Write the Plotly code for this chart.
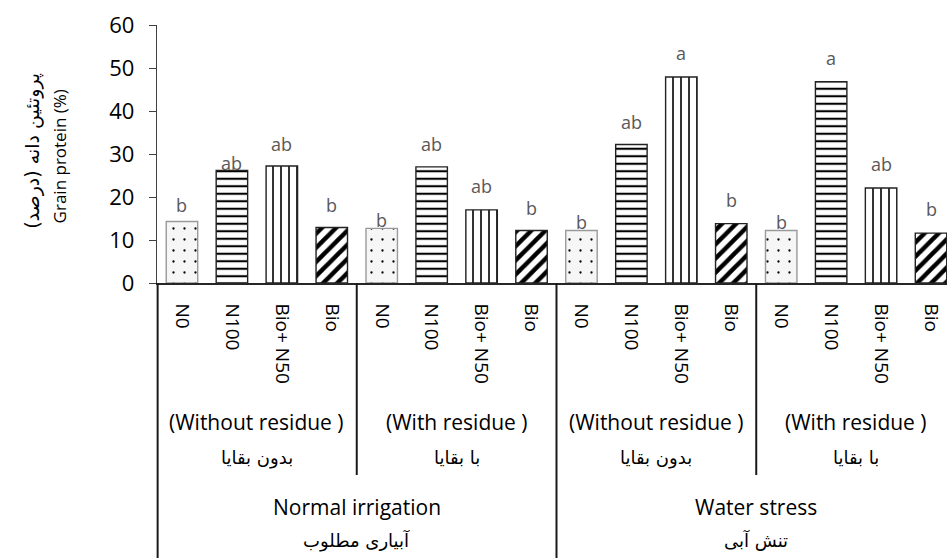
import plotly.graph_objects as go

# ---- data ----
treatments = ["N0", "N100", "Bio+ N50", "Bio"]
residue_en = ["(Without residue )", "(With residue )"]
residue_fa = ["بدون بقایا", "با بقایا"]
irrigation_en = ["Normal irrigation", "Water stress"]
irrigation_fa = ["آبیاری مطلوب", "تنش آبی"]

# order of groups: NI-without, NI-with, WS-without, WS-with
protein_N0 = [14.3, 12.7, 12.2, 12.2]
protein_N100 = [26.2, 27.0, 32.2, 46.8]
protein_BioN50 = [27.2, 17.0, 47.9, 22.1]
protein_Bio = [12.9, 12.2, 13.8, 11.6]

letters_N0 = ["b", "b", "b", "b"]
letters_N100 = ["ab", "ab", "ab", "a"]
letters_BioN50 = ["ab", "ab", "a", "ab"]
letters_Bio = ["b", "b", "b", "b"]

y_title_en = "Grain protein (%)"
y_title_fa = "پروتئین دانه (درصد)\u200f"

# ---- styling (not data) ----
series = [
    (protein_N0, letters_N0, dict(shape=".", size=11, solidity=0.035, fgcolor="#000000", bgcolor="#f6f6f6"), "#9a9a9a", [17, 8, 9, 9]),
    (protein_N100, letters_N100, dict(shape="-", size=7.5, solidity=0.28, fgcolor="#000000", bgcolor="#ffffff"), "#222222", [7, 23, 23, 24]),
    (protein_BioN50, letters_BioN50, dict(shape="|", size=8, solidity=0.2, fgcolor="#000000", bgcolor="#ffffff"), "#222222", [22, 24, 24, 24]),
    (protein_Bio, letters_Bio, dict(shape="/", size=10, solidity=0.45, fgcolor="#000000", bgcolor="#ffffff"), "#222222", [23, 23, 24, 24]),
]

LAT = "Open Sans"
FA = "DejaVu Sans"
n_groups = 4
n_t = len(treatments)

fig = go.Figure()
annotations = []
for j, (vals, lets, pat, lc, offs) in enumerate(series):
    xs = [g * n_t + j for g in range(n_groups)]
    fig.add_trace(go.Bar(
        x=xs, y=vals, width=0.63, name=treatments[j],
        marker=dict(color="#ffffff", line=dict(color=lc, width=1.4),
                    pattern=dict(fillmode="replace", **pat)),
        showlegend=False, hoverinfo="x+y",
    ))
    for x, v, l, o in zip(xs, vals, lets, offs):
        annotations.append(dict(x=x, y=v, xref="x", yref="y", text=l, showarrow=False,
                                yanchor="middle", yshift=o,
                                font=dict(family=LAT, size=18, color="#595959")))

# plot area geometry (pixels) used for paper-coordinate conversion
H_PLOT = 258.0
def py(pix):
    return (283.0 - pix) / H_PLOT

# residue level labels
for gi in range(n_groups):
    cx = gi * n_t + (n_t - 1) / 2
    annotations.append(dict(x=cx, y=py(421.5), xref="x", yref="paper", text=residue_en[gi % 2],
                            showarrow=False, yanchor="middle",
                            font=dict(family=LAT, size=21, color="#000000")))
    annotations.append(dict(x=cx, y=py(458), xref="x", yref="paper", text=residue_fa[gi % 2],
                            showarrow=False, yanchor="middle",
                            font=dict(family=FA, size=18, color="#000000")))
# irrigation level labels
for ii in range(2):
    cx = ii * 2 * n_t + (2 * n_t - 1) / 2
    annotations.append(dict(x=cx, y=py(507), xref="x", yref="paper", text=irrigation_en[ii],
                            showarrow=False, yanchor="middle",
                            font=dict(family=LAT, size=21, color="#000000")))
    annotations.append(dict(x=cx, y=py(540), xref="x", yref="paper", text=irrigation_fa[ii],
                            showarrow=False, yanchor="middle",
                            font=dict(family=FA, size=18, color="#000000")))

# y-axis titles (two lines, two scripts)
annotations.append(dict(x=-0.123, y=0.49, xref="paper", yref="paper", text=y_title_en,
                        showarrow=False, textangle=-90, xanchor="center", yanchor="middle",
                        font=dict(family=LAT, size=17, color="#000000")))
annotations.append(dict(x=-0.157, y=0.512, xref="paper", yref="paper", text=y_title_fa,
                        showarrow=False, textangle=-90, xanchor="center", yanchor="middle",
                        font=dict(family=FA, size=19, color="#000000")))

# divider lines of the multi-level category axis
shapes = []
shapes.append(dict(type="line", xref="paper", yref="paper", x0=0.0008, x1=0.0008, y0=0, y1=py(558),
                   line=dict(color="#1a1a1a", width=2)))
for b in [3.5, 11.5]:
    shapes.append(dict(type="line", xref="x", yref="paper", x0=b, x1=b, y0=0, y1=py(475),
                       line=dict(color="#1a1a1a", width=2)))
shapes.append(dict(type="line", xref="x", yref="paper", x0=7.5, x1=7.5, y0=0, y1=py(558),
                   line=dict(color="#1a1a1a", width=2)))

fig.update_layout(
    width=947, height=558,
    margin=dict(l=157, r=0, t=25, b=275),
    plot_bgcolor="#ffffff", paper_bgcolor="#ffffff",
    barmode="overlay",
    annotations=annotations, shapes=shapes,
    font=dict(family=LAT, color="#000000"),
    xaxis=dict(
        range=[-0.5, 15.32], tickmode="array",
        tickvals=list(range(n_groups * n_t)), ticktext=treatments * n_groups,
        tickangle=90, ticks="", showgrid=False, zeroline=False,
        showline=True, linecolor="#262626", linewidth=1.5,
        tickfont=dict(family=LAT, size=19, color="#000000"),
        ticklabelstandoff=15, fixedrange=True,
    ),
    yaxis=dict(
        range=[0, 60], dtick=10, ticks="outside", ticklen=7, tickwidth=1.3,
        tickcolor="#404040", showline=True, linecolor="#404040", linewidth=1.3,
        showgrid=False, zeroline=False,
        tickfont=dict(family=LAT, size=22, color="#000000"),
        ticklabelstandoff=10, fixedrange=True,
    ),
)

fig.write_html("out.html", config={"displayModeBar": False})
